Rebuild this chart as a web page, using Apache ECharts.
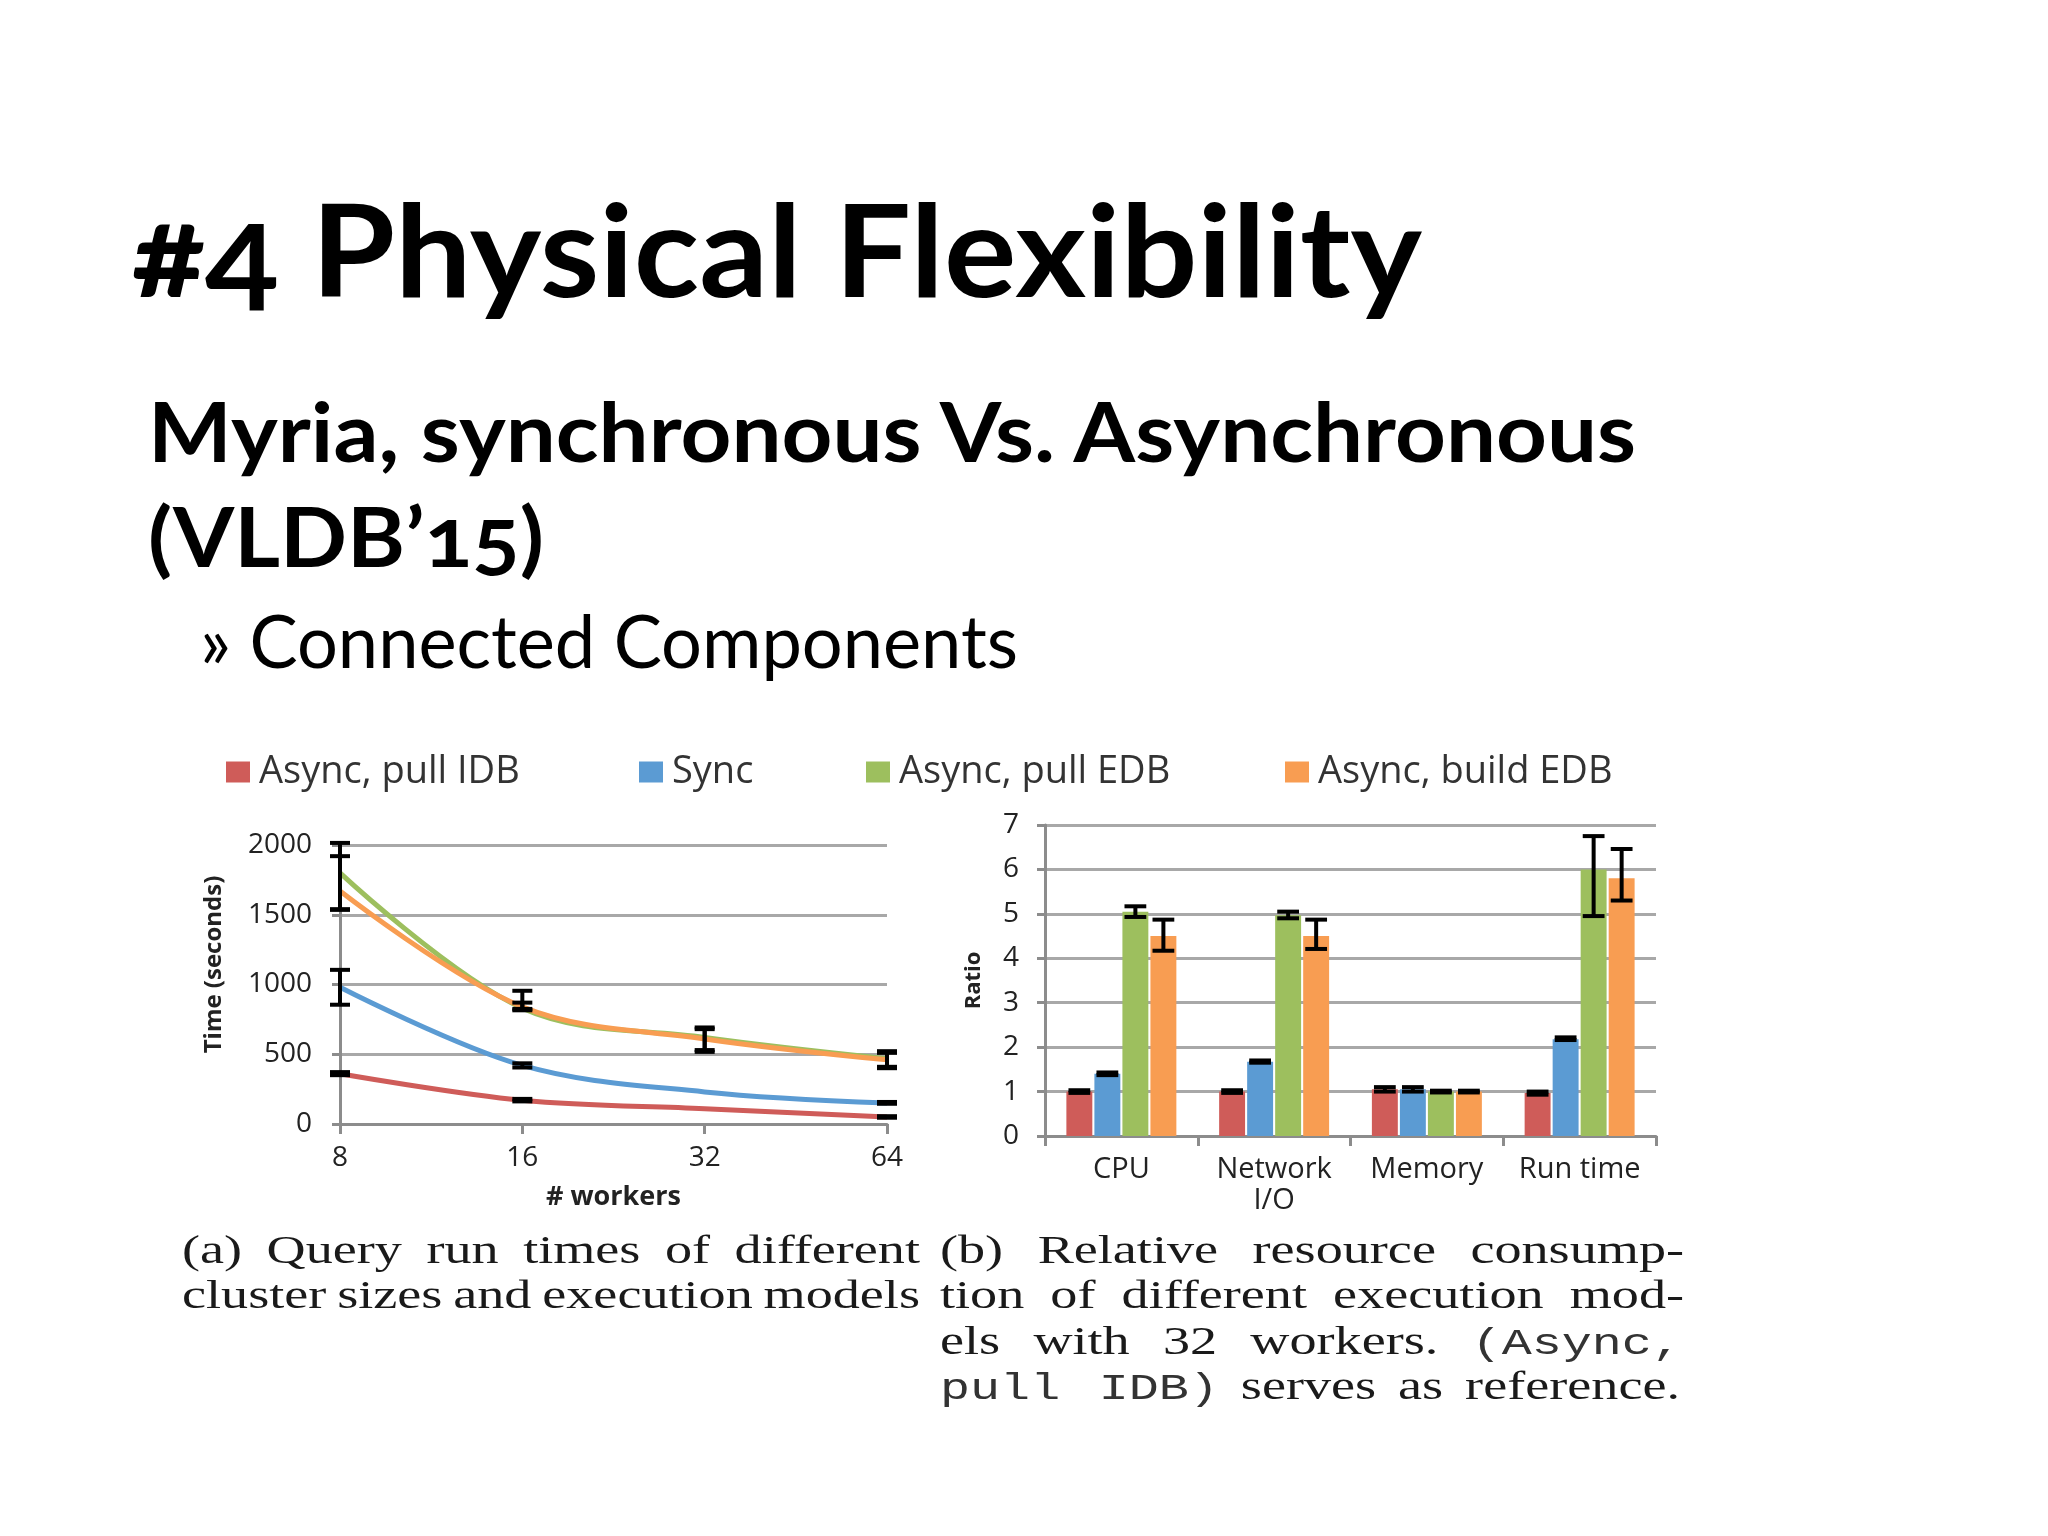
<!DOCTYPE html>
<html><head><meta charset="utf-8">
<script src="https://cdn.jsdelivr.net/npm/echarts@6/dist/echarts.min.js"></script>
<style>
html,body{margin:0;padding:0;background:#fff;width:2048px;height:1536px;overflow:hidden;}
#chart{position:absolute;left:0;top:0;width:2048px;height:1536px;}
.t{position:absolute;white-space:nowrap;transform-origin:0 0;color:#000;line-height:1;font-family:Lato,"Open Sans",sans-serif;}
.cap{position:absolute;white-space:nowrap;transform-origin:0 0;color:#1a1a1a;line-height:1;font-family:"Liberation Serif","DejaVu Serif",serif;font-size:40px;}
.mono{font-family:"Liberation Mono","DejaVu Sans Mono",monospace;color:#333;font-size:37px;}
</style></head><body>
<div id="chart"></div>
<div class="t" id="title" data-w="1290" style="left:132px;top:184px;font-size:128px;font-weight:700;font-variant-numeric:oldstyle-nums;">#4 Physical Flexibility</div>
<div class="t" id="sub1" data-w="1488" style="left:148px;top:389px;font-size:82px;font-weight:700;">Myria, synchronous Vs. Asynchronous</div>
<div class="t" id="sub2" data-w="396" style="left:148px;top:494px;font-size:82px;font-weight:700;font-variant-numeric:oldstyle-nums;">(VLDB’15)</div>
<div class="t" id="bul" data-w="818" style="left:200px;top:603px;font-size:74px;font-weight:400;">» Connected Components</div>

<div class="cap" data-w="738" style="left:182px;top:1230px;">(a) Query run times of different</div>
<div class="cap" data-w="738" style="left:182px;top:1275px;">cluster sizes and execution models</div>
<div class="cap" data-w="744" style="left:940px;top:1230px;">(b) Relative resource consump-</div>
<div class="cap" data-w="744" style="left:940px;top:1275px;">tion of different execution mod-</div>
<div class="cap" data-w="742" style="left:940px;top:1321px;">els with 32 workers. <span class="mono">(Async,</span></div>
<div class="cap" data-w="740" style="left:940px;top:1366px;"><span class="mono">pull IDB)</span> serves as reference.</div>

<script>
// ---------------- data ----------------
const seriesNames = ['Async, pull IDB', 'Sync', 'Async, pull EDB', 'Async, build EDB'];
const seriesColors = ['#cf5c59', '#5b9bd3', '#9dbf5e', '#f89d52'];

// (a) run time vs. workers
const workers = ['8', '16', '32', '64'];
const timeAsyncPullIDB = [360, 170, 110, 50];
const timeSync = [980, 420, 230, 150];
const timeAsyncPullEDB = [1800, 830, 620, 468];
const timeAsyncBuildEDB = [1670, 840, 610, 460];
// error bounds [low, high] (null = none drawn)
const timeErrAsyncPullIDB = [[350, 372], [162, 180], null, [45, 56]];
const timeErrSync = [[855, 1105], [405, 435], null, [145, 158]];
const timeErrAsyncPullEDB = [[1540, 2015], [825, 955], [530, 692], [400, 522]];
const timeErrAsyncBuildEDB = [[1535, 1920], [815, 870], [517, 680], [410, 510]];
const timeTicks = {min: 0, max: 2000, interval: 500};

// (b) relative resource consumption, 32 workers
const resources = ['CPU', 'Network\nI/O', 'Memory', 'Run time'];
const ratioAsyncPullIDB = [1.0, 1.0, 1.05, 0.97];
const ratioSync = [1.4, 1.67, 1.05, 2.18];
const ratioAsyncPullEDB = [5.05, 4.97, 1.0, 6.0];
const ratioAsyncBuildEDB = [4.5, 4.5, 1.0, 5.8];
const ratioErrAsyncPullIDB = [[0.97, 1.03], [0.97, 1.03], [1.0, 1.1], [0.93, 1.0]];
const ratioErrSync = [[1.37, 1.43], [1.65, 1.70], [1.0, 1.1], [2.16, 2.22]];
const ratioErrAsyncPullEDB = [[4.93, 5.17], [4.9, 5.05], [0.98, 1.02], [4.95, 6.75]];
const ratioErrAsyncBuildEDB = [[4.17, 4.87], [4.21, 4.87], [0.98, 1.02], [5.3, 6.46]];
const ratioTicks = {min: 0, max: 7, interval: 1};

// ---------------- helpers ----------------
const timeValues = [timeAsyncPullIDB, timeSync, timeAsyncPullEDB, timeAsyncBuildEDB];
const timeErrs = [timeErrAsyncPullIDB, timeErrSync, timeErrAsyncPullEDB, timeErrAsyncBuildEDB];
const ratioValues = [ratioAsyncPullIDB, ratioSync, ratioAsyncPullEDB, ratioAsyncBuildEDB];
const ratioErrs = [ratioErrAsyncPullIDB, ratioErrSync, ratioErrAsyncPullEDB, ratioErrAsyncBuildEDB];

const BAR_CAT_GAP = 0.28, BAR_GAP = 0.08, NBARS = 4;
const ERR_STYLE = {stroke: '#000', lineWidth: 4};

function errBarShape(x, y1, y2, cw) {
  return [
    {type: 'line', shape: {x1: x, y1: y1, x2: x, y2: y2}, style: ERR_STYLE},
    {type: 'line', shape: {x1: x - cw, y1: y1, x2: x + cw, y2: y1}, style: ERR_STYLE},
    {type: 'line', shape: {x1: x - cw, y1: y2, x2: x + cw, y2: y2}, style: ERR_STYLE}
  ];
}
function renderLineErr(params, api) {
  const i = api.value(0);
  const p1 = api.coord([i, api.value(1)]);
  const p2 = api.coord([i, api.value(2)]);
  return {type: 'group', children: errBarShape(p1[0], p1[1], p2[1], 10)};
}
function renderBarErr(params, api) {
  const i = api.value(0), s = api.value(3);
  const p1 = api.coord([i, api.value(1)]);
  const p2 = api.coord([i, api.value(2)]);
  const bw = api.size([1, 0])[0];
  const barW = bw * (1 - BAR_CAT_GAP) / (NBARS + (NBARS - 1) * BAR_GAP);
  const total = NBARS * barW + (NBARS - 1) * BAR_GAP * barW;
  const x = p1[0] - total / 2 + s * barW * (1 + BAR_GAP) + barW / 2;
  return {type: 'group', children: errBarShape(x, p1[1], p2[1], barW * 0.42)};
}

const AX = '#8c8c8c', GRID = '#a8a8a8', LBL = '#222', FONT = '"Open Sans", sans-serif';

const series = [];
seriesNames.forEach((n, k) => {
  series.push({
    name: n, type: 'line', xAxisIndex: 0, yAxisIndex: 0, data: timeValues[k],
    smooth: 0.35, showSymbol: false, symbol: 'none', z: 3 + k,
    lineStyle: {width: 5, color: seriesColors[k]}, itemStyle: {color: seriesColors[k]}
  });
});
seriesNames.forEach((n, k) => {
  const d = [];
  timeErrs[k].forEach((e, i) => { if (e) d.push([i, e[0], e[1]]); });
  series.push({
    name: 'err-a-' + k, type: 'custom', xAxisIndex: 0, yAxisIndex: 0, data: d,
    renderItem: renderLineErr, encode: {x: 0, y: [1, 2]}, clip: false, z: 10, silent: true
  });
});
seriesNames.forEach((n, k) => {
  series.push({
    name: n, type: 'bar', xAxisIndex: 1, yAxisIndex: 1, data: ratioValues[k],
    barCategoryGap: (BAR_CAT_GAP * 100) + '%', barGap: (BAR_GAP * 100) + '%',
    itemStyle: {color: seriesColors[k]}
  });
});
(function () {
  const d = [];
  ratioErrs.forEach((arr, s) => arr.forEach((e, i) => d.push([i, e[0], e[1], s])));
  series.push({
    name: 'err-b', type: 'custom', xAxisIndex: 1, yAxisIndex: 1, data: d,
    renderItem: renderBarErr, encode: {x: 0, y: [1, 2]}, clip: false, z: 10, silent: true
  });
})();

const legendLefts = [226, 639, 866, 1285];
const legends = seriesNames.map((n, k) => ({
  data: [n], left: legendLefts[k], top: 753, padding: 0, icon: 'rect',
  itemWidth: 24, itemHeight: 21, selectedMode: false,
  textStyle: {fontSize: 38, fontFamily: FONT, color: '#333', padding: [0, 0, 0, 4]}
}));

const plainNum = v => String(v);

const chart = echarts.init(document.getElementById('chart'), null, {renderer: 'canvas'});
chart.setOption({
  animation: false,
  backgroundColor: 'rgba(0,0,0,0)',
  color: seriesColors,
  legend: legends,
  grid: [
    {left: 340, top: 845, width: 547, height: 279},
    {left: 1045, top: 825, width: 611, height: 311}
  ],
  xAxis: [
    {
      type: 'category', gridIndex: 0, data: workers, boundaryGap: false,
      axisLine: {lineStyle: {color: AX, width: 3}},
      axisTick: {show: true, length: 10, lineStyle: {color: AX, width: 3}},
      axisLabel: {fontSize: 28, color: LBL, margin: 20, fontFamily: FONT, interval: 0},
      name: '# workers', nameLocation: 'middle', nameGap: 60,
      nameTextStyle: {fontSize: 27, fontWeight: 'bold', color: LBL, fontFamily: FONT}
    },
    {
      type: 'category', gridIndex: 1, data: resources,
      axisLine: {lineStyle: {color: AX, width: 3}},
      axisTick: {show: true, length: 10, lineStyle: {color: AX, width: 3}},
      axisLabel: {fontSize: 29, color: LBL, margin: 18, lineHeight: 31, fontFamily: FONT, interval: 0},
    }
  ],
  yAxis: [
    {
      type: 'value', gridIndex: 0, min: timeTicks.min, max: timeTicks.max, interval: timeTicks.interval,
      axisLine: {show: true, lineStyle: {color: AX, width: 3}},
      axisTick: {show: true, length: 8, lineStyle: {color: AX, width: 3}},
      splitLine: {lineStyle: {color: GRID, width: 3}},
      axisLabel: {fontSize: 28, color: LBL, margin: 28, fontFamily: FONT, formatter: plainNum},
      name: 'Time (seconds)', nameLocation: 'middle', nameGap: 114, nameRotate: 90,
      nameTextStyle: {fontSize: 24, fontWeight: 'bold', color: LBL, fontFamily: FONT, padding: [0, 0, 0, 40]}
    },
    {
      type: 'value', gridIndex: 1, min: ratioTicks.min, max: ratioTicks.max, interval: ratioTicks.interval,
      axisLine: {show: true, lineStyle: {color: AX, width: 3}},
      axisTick: {show: true, length: 8, lineStyle: {color: AX, width: 3}},
      splitLine: {lineStyle: {color: GRID, width: 3}},
      axisLabel: {fontSize: 28, color: LBL, margin: 26, fontFamily: FONT, formatter: plainNum},
      name: 'Ratio', nameLocation: 'middle', nameGap: 60, nameRotate: 90,
      nameTextStyle: {fontSize: 22, fontWeight: 'bold', color: LBL, fontFamily: FONT}
    }
  ],
  series: series
});

// ---------------- text fitting (slide text & captions) ----------------
function fitTitles() {
  document.querySelectorAll('.t').forEach(el => {
    el.style.transform = 'none';
    const w = el.getBoundingClientRect().width;
    const T = +el.dataset.w;
    el.style.transform = 'scaleX(' + (T / w) + ')';
  });
  const caps = Array.from(document.querySelectorAll('.cap'));
  const info = caps.map(el => {
    el.style.transform = 'none';
    el.style.wordSpacing = '0px';
    return {el: el, w: el.getBoundingClientRect().width, T: +el.dataset.w,
            n: (el.textContent.match(/ /g) || []).length};
  });
  // common horizontal stretch so that the tightest line keeps small (slightly reduced) spaces
  let s = 1.4;
  info.forEach(o => { s = Math.min(s, o.T / (o.w - o.n * 2)); });
  info.forEach(o => {
    o.el.style.wordSpacing = ((o.T / s - o.w) / o.n) + 'px';
    o.el.style.transform = 'scaleX(' + s + ')';
  });
}
fitTitles();
if (document.fonts && document.fonts.ready) document.fonts.ready.then(fitTitles);
</script>
</body></html>
